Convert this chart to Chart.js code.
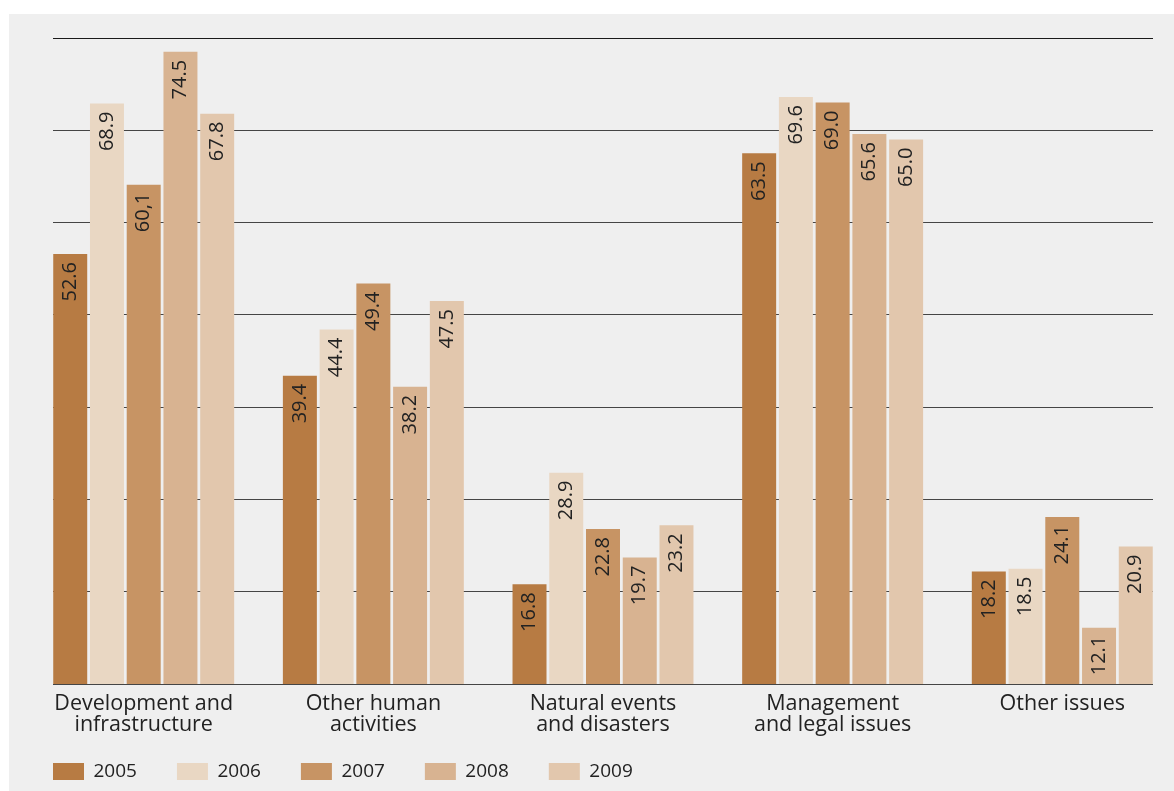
<!DOCTYPE html>
<html lang="en">

<head>
    <meta charset="UTF-8">
    <title>Bars by category, 2005-2009</title>
    <style>
        body {
            margin: 0;
            background-color: #ffffff;
        }

        .chart-container {
            position: absolute;
            left: 9px;
            top: 14px;
            width: 1165px;
            height: 777px;
            background-color: #efefef;
        }
    </style>
</head>

<body>
    <div class="chart-container">
        <canvas id="barChart"></canvas>
    </div>

    <script src="https://cdn.jsdelivr.net/npm/chart.js"></script>
    <script>
        const categories = [
            ['Development and', 'infrastructure'],
            ['Other human', 'activities'],
            ['Natural events', 'and disasters'],
            ['Management', 'and legal issues'],
            ['Other issues']
        ];
        const years = ['2005', '2006', '2007', '2008', '2009'];

        const values2005 = [52.6, 39.4, 16.8, 63.5, 18.2];
        const values2006 = [68.9, 44.4, 28.9, 69.6, 18.5];
        const values2007 = [60.1, 49.4, 22.8, 69.0, 24.1];
        const values2008 = [74.5, 38.2, 19.7, 65.6, 12.1];
        const values2009 = [67.8, 47.5, 23.2, 65.0, 20.9];

        // printed labels (the source writes one value with a comma)
        const text2007 = ['60,1', '49.4', '22.8', '69.0', '24.1'];

        const colors = ['#b77b43', '#e9d7c3', '#c79464', '#d8b391', '#e2c7ad'];
        const fontFamily = '"Open Sans", sans-serif';

        const allValues = [values2005, values2006, values2007, values2008, values2009];

        // vertical value labels at the top inside each bar
        const barLabels = {
            id: 'barLabels',
            afterDatasetsDraw(chart) {
                const ctx = chart.ctx;
                ctx.save();
                ctx.font = '20px ' + fontFamily;
                ctx.fillStyle = '#222222';
                ctx.textAlign = 'right';
                ctx.textBaseline = 'middle';
                chart.data.datasets.forEach((ds, di) => {
                    const meta = chart.getDatasetMeta(di);
                    meta.data.forEach((bar, i) => {
                        const txt = ds.printed ? ds.printed[i] : ds.data[i].y.toFixed(1);
                        ctx.save();
                        ctx.translate(bar.x, bar.y + 8);
                        ctx.rotate(-Math.PI / 2);
                        ctx.fillText(txt, 0, 0);
                        ctx.restore();
                    });
                });
                ctx.restore();
            }
        };

        // the two-line category labels run below the x axis box; don't clip them
        const labelRoom = {
            id: 'labelRoom',
            afterLayout(chart) {
                chart.scales.x.bottom = chart.height;
            }
        };

        const datasets = years.map((year, k) => ({
            label: year,
            data: allValues[k].map((v, i) => ({ x: i, y: v })),
            printed: k === 2 ? text2007 : null,
            backgroundColor: colors[k],
            borderWidth: 0,
            categoryPercentage: 0.8,
            barPercentage: 0.925
        }));

        const ctx = document.getElementById('barChart').getContext('2d');
        new Chart(ctx, {
            type: 'bar',
            data: { datasets: datasets },
            options: {
                responsive: true,
                maintainAspectRatio: false,
                animation: false,
                layout: {
                    padding: { left: 4, right: 21, top: 24, bottom: 0 }
                },
                plugins: {
                    tooltip: { enabled: false },
                    legend: {
                        position: 'bottom',
                        align: 'start',
                        maxHeight: 69,
                        labels: {
                            boxWidth: 31,
                            boxHeight: 17,
                            padding: 40,
                            color: '#222222',
                            font: { family: fontFamily, size: 19 }
                        }
                    }
                },
                scales: {
                    x: {
                        type: 'linear',
                        offset: false,
                        min: -0.395,
                        max: 4.395,
                        grid: { display: false, offset: false },
                        border: { display: false },
                        afterBuildTicks: (scale) => {
                            scale.ticks = categories.map((c, i) => ({ value: i }));
                        },
                        afterFit: (scale) => {
                            scale.height = 38;
                        },
                        ticks: {
                            autoSkip: false,
                            maxRotation: 0,
                            padding: 1,
                            color: '#222222',
                            font: { family: fontFamily, size: 21.5, lineHeight: 1.0 },
                            callback: (value) => categories[value]
                        }
                    },
                    y: {
                        min: 6,
                        max: 76,
                        ticks: { display: false, stepSize: 10 },
                        border: { display: false },
                        afterFit: (scale) => {
                            scale.width = 40;
                        },
                        grid: {
                            drawTicks: false,
                            lineWidth: 1,
                            color: (c) => c.tick && c.tick.value === 76 ? '#1a1a1a' : '#454545'
                        }
                    }
                }
            },
            plugins: [barLabels, labelRoom]
        });
    </script>
</body>

</html>
